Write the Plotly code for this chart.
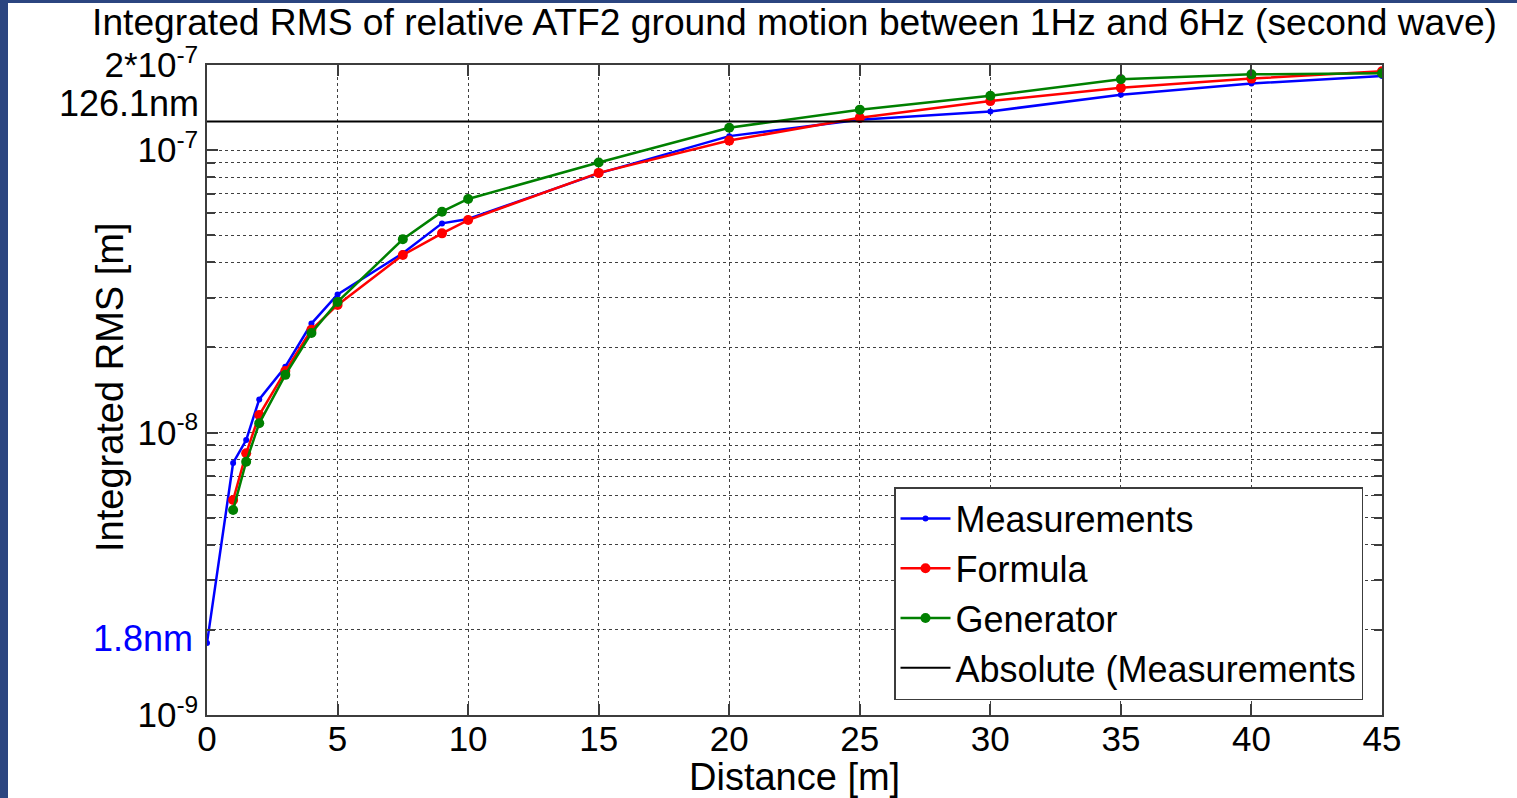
import numpy as np
import plotly.graph_objects as go

# Distances between the two sensors [m]
dist_meas = [0, 1, 1.5, 2, 3, 4, 5, 7.5, 9, 10, 15, 20, 25, 30, 35, 40, 45]
dist_model = [1, 1.5, 2, 3, 4, 5, 7.5, 9, 10, 15, 20, 25, 30, 35, 40, 45]

# Integrated RMS of relative motion, 1-6 Hz [m]
rms_measurements = [1.8e-9, 7.8e-9, 9.4e-9, 1.31e-8, 1.71e-8, 2.43e-8, 3.08e-8,
                    4.31e-8, 5.50e-8, 5.70e-8, 8.27e-8, 1.12e-7, 1.28e-7,
                    1.37e-7, 1.57e-7, 1.72e-7, 1.83e-7]
rms_formula = [5.77e-9, 8.44e-9, 1.153e-8, 1.65e-8, 2.31e-8, 2.83e-8,
               4.25e-8, 5.07e-8, 5.65e-8, 8.30e-8, 1.08e-7, 1.30e-7,
               1.49e-7, 1.66e-7, 1.79e-7, 1.90e-7]
rms_generator = [5.32e-9, 7.88e-9, 1.078e-8, 1.60e-8, 2.25e-8, 2.90e-8,
                 4.83e-8, 6.05e-8, 6.71e-8, 9.03e-8, 1.20e-7, 1.39e-7,
                 1.556e-7, 1.78e-7, 1.853e-7, 1.87e-7]

# Absolute ground motion level from the measurements [m]
absolute_level = 126.1e-9
absolute_x = [0, 45]

# Axis ticks
x_ticks = list(range(0, 50, 5))
y_major = [1e-9, 1e-8, 1e-7, 2e-7]
y_major_text = ["10<sup>-9</sup>", "10<sup>-8</sup>", "10<sup>-7</sup>",
                "2*10<sup>-7</sup>"]
y_minor = [m * 10.0 ** e for e in (-9, -8) for m in range(2, 10)]

FONT = "Liberation Sans, Arial, sans-serif"
W, H = 1517, 798
ML, MR, MT, MB = 207, 135, 65, 83
PW, PH = W - ML - MR, H - MT - MB

fig = go.Figure()

fig.add_trace(go.Scatter(
    x=dist_meas, y=rms_measurements, name="Measurements", mode="lines+markers",
    line=dict(color="#0000ff", width=2.5),
    marker=dict(color="#0000ff", size=6, symbol="circle")))
fig.add_trace(go.Scatter(
    x=dist_model, y=rms_formula, name="Formula", mode="lines+markers",
    line=dict(color="#ff0000", width=2.5),
    marker=dict(color="#ff0000", size=10, symbol="circle")))
fig.add_trace(go.Scatter(
    x=dist_model, y=rms_generator, name="Generator", mode="lines+markers",
    line=dict(color="#008000", width=2.5),
    marker=dict(color="#008000", size=10, symbol="circle")))
fig.add_trace(go.Scatter(
    x=absolute_x, y=[absolute_level] * len(absolute_x),
    name="Absolute (Measurements", mode="lines",
    line=dict(color="#000000", width=2)))

axis_common = dict(
    showline=True, linecolor="#3c3c3c", linewidth=1.5, mirror="ticks",
    ticks="inside", tickcolor="#3c3c3c", ticklen=11, tickwidth=1.5,
    tickfont=dict(family=FONT, size=35, color="#000000"),
    zeroline=False,
)

fig.update_xaxes(
    **axis_common,
    range=[0, 45], tickvals=x_ticks, ticktext=[str(v) for v in x_ticks],
    ticklabelstandoff=-8,
    showgrid=True, gridcolor="#404040", griddash="dot", gridwidth=1,
)

fig.update_yaxes(
    **axis_common,
    type="log", range=[-9, np.log10(2e-7)],
    tickvals=y_major, ticktext=y_major_text,
    showgrid=True, gridcolor="#404040", griddash="dot", gridwidth=1,
    minor=dict(tickvals=y_minor, ticks="inside", ticklen=8, tickcolor="#3c3c3c",
               showgrid=True, gridcolor="#404040", griddash="dot", gridwidth=1),
)

# Axis titles
fig.add_annotation(x=0.5, xref="paper", xanchor="center",
                   y=0, yref="paper", yanchor="middle", yshift=-(777 - (MT + PH)),
                   text="Distance [m]", showarrow=False,
                   font=dict(family=FONT, size=38, color="#000000"))
fig.add_annotation(x=0, xref="paper", xanchor="center", xshift=-(ML - 110),
                   y=(715 - 388) / PH, yref="paper", yanchor="middle",
                   text="Integrated RMS [m]", textangle=-90, showarrow=False,
                   font=dict(family=FONT, size=38, color="#000000"))

# Labels for the absolute level and the zero-distance measurement
fig.add_annotation(x=0, xref="paper", xanchor="right", xshift=-6,
                   y=np.log10(absolute_level), yref="y", yanchor="middle", yshift=18,
                   text="126.1nm", showarrow=False,
                   font=dict(family=FONT, size=36, color="#000000"))
fig.add_annotation(x=0, xref="paper", xanchor="right", xshift=-12,
                   y=np.log10(rms_measurements[0]), yref="y", yanchor="middle", yshift=4,
                   text="1.8nm", showarrow=False,
                   font=dict(family=FONT, size=36, color="#0000ff"))

# Slide frame strips
fig.add_shape(type="rect", xref="paper", yref="paper",
              x0=-ML / PW, x1=(8 - ML) / PW, y0=-MB / PH, y1=(PH + MT) / PH,
              fillcolor="#2b4580", line=dict(width=0), layer="below")
fig.add_shape(type="rect", xref="paper", yref="paper",
              x0=-ML / PW, x1=(W - ML) / PW, y0=(PH + MT - 3) / PH, y1=(PH + MT) / PH,
              fillcolor="#2b4580", line=dict(width=0), layer="below")

fig.update_layout(
    width=W, height=H,
    margin=dict(l=ML, r=MR, t=MT, b=MB, autoexpand=False),
    paper_bgcolor="#ffffff", plot_bgcolor="#ffffff",
    font=dict(family=FONT, color="#000000"),
    title=dict(text="Integrated RMS of relative ATF2 ground motion between 1Hz and 6Hz (second wave)",
               font=dict(family=FONT, size=37.2, color="#000000"),
               x=(ML + PW / 2) / W, xanchor="center", y=1 - 22 / H, yanchor="middle"),
    legend=dict(x=(1363 - ML) / PW, xanchor="right", y=(715 - 700) / PH, yanchor="bottom",
                bgcolor="#ffffff", bordercolor="#3c3c3c", borderwidth=1.5,
                font=dict(family=FONT, size=36, color="#000000"),
                tracegroupgap=0, itemwidth=50),
    showlegend=True,
)

fig.write_html("out.html")
